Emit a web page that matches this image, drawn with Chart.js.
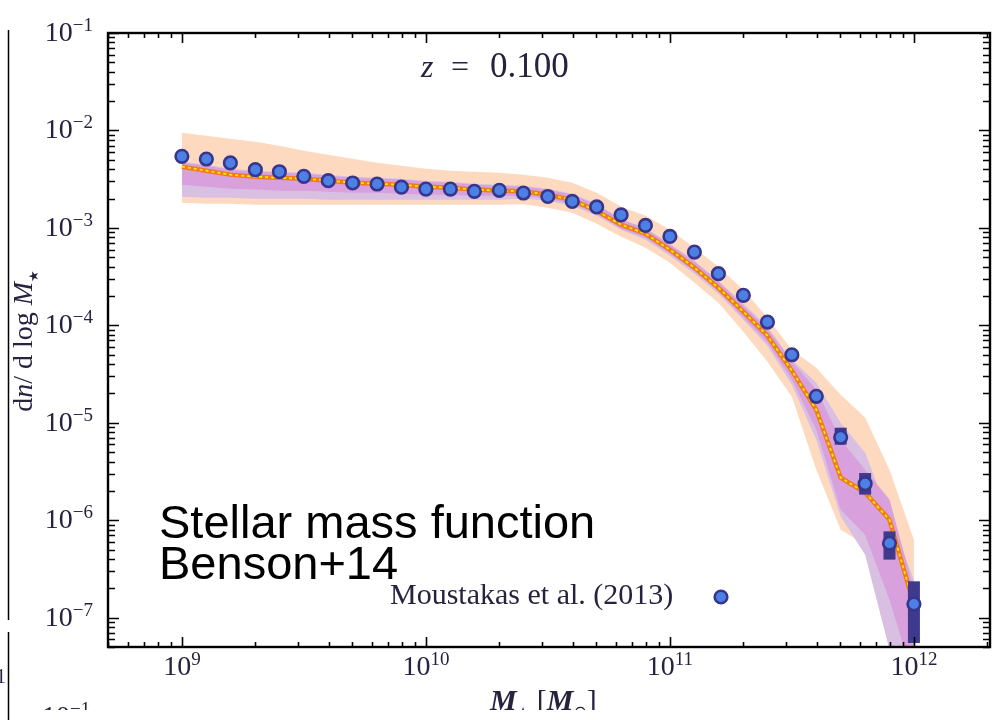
<!DOCTYPE html>
<html>
<head>
<meta charset="utf-8">
<script src="https://cdn.jsdelivr.net/npm/chart.js@4.4.1/dist/chart.umd.min.js"></script>
<style>
html,body{margin:0;padding:0;background:#fff;}
#wrap{width:994px;height:720px;position:relative;}
canvas{display:block;}
</style>
</head>
<body>
<div id="wrap"><canvas id="c" width="994" height="720"></canvas></div>
<script>
// ---------------- data ----------------
const massGrid = [1.00e9,1.26e9,1.58e9,2.00e9,2.51e9,3.16e9,3.98e9,5.01e9,6.31e9,7.94e9,
  1.00e10,1.26e10,1.58e10,2.00e10,2.51e10,3.16e10,3.98e10,5.01e10,6.31e10,7.94e10,
  1.00e11,1.26e11,1.58e11,2.00e11,2.51e11,3.16e11,3.98e11,5.01e11,6.31e11,7.94e11,1.00e12];

const moustakasVals = [5.42e-3,5.09e-3,4.64e-3,3.96e-3,3.77e-3,3.38e-3,3.05e-3,2.89e-3,2.82e-3,2.62e-3,
  2.50e-3,2.50e-3,2.37e-3,2.43e-3,2.28e-3,2.10e-3,1.87e-3,1.64e-3,1.36e-3,1.06e-3,
  8.18e-4,5.65e-4,3.39e-4,2.03e-4,1.08e-4,4.99e-5,1.87e-5,7.1e-6,2.37e-6,5.8e-7,1.38e-7];

const errMass = [5.01e11,6.31e11,7.94e11,1.00e12];
const errLo   = [5.96e-6,1.83e-6,3.94e-7,5.50e-8];
const errHi   = [8.9e-6,3.05e-6,7.69e-7,2.36e-7];

const modelVals = [4.25e-3,3.86e-3,3.52e-3,3.35e-3,3.27e-3,3.20e-3,3.05e-3,2.91e-3,2.84e-3,2.77e-3,
  2.65e-3,2.58e-3,2.47e-3,2.41e-3,2.38e-3,2.19e-3,1.94e-3,1.49e-3,1.08e-3,8.71e-4,
  5.97e-4,3.91e-4,2.43e-4,1.38e-4,7.83e-5,3.43e-5,1.36e-5,2.73e-6,1.92e-6,1.01e-6,1.36e-7];

const peachHi = [9.48e-3,8.83e-3,8.23e-3,7.67e-3,6.97e-3,6.19e-3,5.64e-3,5.13e-3,4.67e-3,4.35e-3,
  4.05e-3,3.86e-3,3.77e-3,3.68e-3,3.52e-3,3.27e-3,2.91e-3,2.30e-3,1.65e-3,1.33e-3,
  9.59e-4,6.27e-4,4.00e-4,2.32e-4,1.20e-4,5.62e-5,3.67e-5,1.94e-5,1.13e-5,3.30e-6,6.31e-7];
const peachLo = [1.81e-3,1.77e-3,1.77e-3,1.73e-3,1.73e-3,1.73e-3,1.73e-3,1.73e-3,1.73e-3,1.73e-3,
  1.73e-3,1.73e-3,1.73e-3,1.73e-3,1.75e-3,1.61e-3,1.43e-3,1.10e-3,8.13e-4,6.27e-4,
  4.40e-4,2.74e-4,1.71e-4,8.61e-5,4.24e-5,1.85e-5,3.30e-6,8.0e-7,5.61e-7,4.69e-8,1.44e-8];
const lavHi = [4.78e-3,4.45e-3,4.05e-3,3.86e-3,3.77e-3,3.68e-3,3.52e-3,3.35e-3,3.27e-3,3.20e-3,
  3.05e-3,2.98e-3,2.84e-3,2.77e-3,2.71e-3,2.52e-3,2.24e-3,1.77e-3,1.24e-3,1.00e-3,
  6.89e-4,4.61e-4,2.87e-4,1.67e-4,9.68e-5,4.44e-5,2.58e-5,1.00e-5,4.93e-6,1.09e-6,2.45e-7];
const lavLo = [2.09e-3,2.04e-3,2.04e-3,1.99e-3,1.99e-3,1.99e-3,1.94e-3,1.94e-3,1.94e-3,1.94e-3,
  1.94e-3,1.94e-3,1.94e-3,1.94e-3,2.00e-3,1.90e-3,1.69e-3,1.33e-3,9.59e-4,7.57e-4,
  5.19e-4,3.39e-4,2.11e-4,1.14e-4,6.18e-5,2.46e-5,6.71e-6,1.09e-6,4.43e-7,4.69e-8,1.44e-8];
const magHi = [4.67e-3,4.35e-3,3.96e-3,3.77e-3,3.68e-3,3.60e-3,3.43e-3,3.27e-3,3.20e-3,3.13e-3,
  2.98e-3,2.91e-3,2.77e-3,2.71e-3,2.65e-3,2.47e-3,2.19e-3,1.73e-3,1.21e-3,9.82e-4,
  6.73e-4,4.50e-4,2.81e-4,1.59e-4,9.24e-5,4.24e-5,2.19e-5,6.71e-6,3.30e-6,1.63e-6,1.94e-7];
const magLo = [2.77e-3,2.65e-3,2.52e-3,2.47e-3,2.41e-3,2.41e-3,2.35e-3,2.30e-3,2.30e-3,2.24e-3,
  2.19e-3,2.19e-3,2.14e-3,2.14e-3,2.14e-3,1.99e-3,1.77e-3,1.40e-3,9.82e-4,7.93e-4,
  5.43e-4,3.56e-4,2.21e-4,1.20e-4,6.64e-5,2.77e-5,8.49e-6,1.28e-6,7.11e-7,1.53e-7,2.31e-8];

const xTickValues = [1e9,1e10,1e11,1e12];
const xTickExps   = ['9','10','11','12'];
const yTickValues = [1e-1,1e-2,1e-3,1e-4,1e-5,1e-6,1e-7];
const yTickExps   = ['\u22121','\u22122','\u22123','\u22124','\u22125','\u22126','\u22127'];

const legendLabel = 'Moustakas et al. (2013)';
const panelLabel  = ['z', '=', '0.100'];
const noteLines   = ['Stellar mass function', 'Benson+14'];

// ---------------- build ----------------
const pts = (ys) => massGrid.map((m, i) => ({x: m, y: ys[i]}));
const band = (data, color, fillTarget, order) => ({
  data: data, showLine: true, borderWidth: 0, pointRadius: 0, backgroundColor: color,
  borderColor: 'rgba(0,0,0,0)', fill: fillTarget, order: order, tension: 0
});

const SERIF = '"Liberation Serif", "Times New Roman", serif';
const TXT = '#28223e';

function drawSup(ctx, base, exp, x, baseY, size, expSize, align) {
  ctx.font = size + 'px ' + SERIF;
  const wb = ctx.measureText(base).width;
  ctx.font = expSize + 'px ' + SERIF;
  const we = ctx.measureText(exp).width;
  let left;
  if (align === 'right') left = x - wb - we;
  else if (align === 'center') left = x - (wb + we) / 2;
  else left = x;
  ctx.textAlign = 'left';
  ctx.textBaseline = 'alphabetic';
  ctx.font = size + 'px ' + SERIF;
  ctx.fillText(base, left, baseY);
  ctx.font = expSize + 'px ' + SERIF;
  ctx.fillText(exp, left + wb, baseY - 10);
}

const decor = {
  id: 'decor',
  beforeDatasetDraw(chart, args) {
    if (args.index !== 8) return;
    const ctx = chart.ctx, xs = chart.scales.x, ys = chart.scales.y, a = chart.chartArea;
    ctx.save();
    ctx.beginPath(); ctx.rect(a.left, a.top, a.right - a.left, a.bottom - a.top); ctx.clip();
    ctx.fillStyle = '#3f3a8e';
    errMass.forEach((m, i) => {
      const px = xs.getPixelForValue(m);
      const y1 = ys.getPixelForValue(errHi[i]);
      const y2 = ys.getPixelForValue(errLo[i]);
      ctx.fillRect(px - 6, y1, 12, y2 - y1);
    });
    ctx.restore();
  },
  afterDraw(chart) {
    const ctx = chart.ctx, xs = chart.scales.x, ys = chart.scales.y, a = chart.chartArea;
    ctx.save();
    // ticks (inward, on all four sides)
    ctx.strokeStyle = '#000';
    ctx.lineWidth = 1.6;
    ctx.beginPath();
    for (let e = 8; e <= 12; e++) {
      for (let k = 1; k <= 9; k++) {
        const v = k * Math.pow(10, e);
        if (v < xs.min || v > xs.max) continue;
        const px = Math.round(xs.getPixelForValue(v)) + 0.5;
        const len = k === 1 ? 10 : 5;
        ctx.moveTo(px, a.bottom); ctx.lineTo(px, a.bottom - len);
        ctx.moveTo(px, a.top); ctx.lineTo(px, a.top + len);
      }
    }
    for (let e = -8; e <= -1; e++) {
      for (let k = 1; k <= 9; k++) {
        const v = k * Math.pow(10, e);
        if (v < ys.min || v > ys.max * 1.0001) continue;
        const py = Math.round(ys.getPixelForValue(v)) + 0.5;
        const len = k === 1 ? 11 : 7;
        ctx.moveTo(a.left, py); ctx.lineTo(a.left + len, py);
        ctx.moveTo(a.right, py); ctx.lineTo(a.right - len, py);
      }
    }
    ctx.stroke();
    // frame
    ctx.lineWidth = 2.4;
    ctx.strokeRect(a.left, a.top, a.right - a.left, a.bottom - a.top);

    // tick labels
    ctx.fillStyle = TXT;
    yTickValues.forEach((v, i) => {
      const py = ys.getPixelForValue(v);
      drawSup(ctx, '10', yTickExps[i], 93, py + 8, 28, 19, 'right');
    });
    xTickValues.forEach((v, i) => {
      const px = xs.getPixelForValue(v);
      drawSup(ctx, '10', xTickExps[i], px, 675, 28, 19, 'center');
    });

    // panel label z = 0.100
    ctx.textAlign = 'left'; ctx.textBaseline = 'alphabetic';
    ctx.font = 'italic 32px ' + SERIF;
    ctx.fillText(panelLabel[0], 421, 77);
    ctx.font = '32px ' + SERIF;
    ctx.fillText(panelLabel[1], 451, 77);
    ctx.font = '35px ' + SERIF;
    ctx.fillText(panelLabel[2], 490, 77);

    // legend
    ctx.font = '30px ' + SERIF;
    ctx.fillText(legendLabel, 390, 604);
    const ds = chart.data.datasets[8];
    ctx.beginPath();
    ctx.arc(721, 597, ds.pointRadius, 0, Math.PI * 2);
    ctx.fillStyle = ds.backgroundColor; ctx.fill();
    ctx.lineWidth = ds.borderWidth; ctx.strokeStyle = ds.borderColor; ctx.stroke();

    // overlay note
    ctx.fillStyle = '#000';
    ctx.font = '47px "Liberation Sans", Arial, sans-serif';
    ctx.fillText(noteLines[0], 159, 538);
    ctx.fillText(noteLines[1], 159, 579);

    // y axis title (rotated)
    ctx.fillStyle = TXT;
    ctx.save();
    ctx.translate(32, 341);
    ctx.rotate(-Math.PI / 2);
    const parts = [
      ['d', '28px ' + SERIF, 0], ['n', 'italic 28px ' + SERIF, 0], ['/ d log ', '28px ' + SERIF, 0],
      ['M', 'italic 28px ' + SERIF, 0], ['\u2605', '13px "DejaVu Sans", sans-serif', 6]
    ];
    let tot = 0;
    parts.forEach(p => { ctx.font = p[1]; tot += ctx.measureText(p[0]).width; });
    let cx = -tot / 2;
    parts.forEach(p => { ctx.font = p[1]; ctx.fillText(p[0], cx, p[2]); cx += ctx.measureText(p[0]).width; });
    ctx.restore();

    // clipped region near bottom (cropped figure)
    ctx.save();
    ctx.beginPath(); ctx.rect(0, 0, 994, 710); ctx.clip();
    const xparts = [
      ['M', 'italic bold 30px ' + SERIF, 0], ['\u2605', '14px "DejaVu Sans", sans-serif', 7],
      [' [', '30px ' + SERIF, 0], ['M', 'italic bold 30px ' + SERIF, 0],
      ['\u2299', '16px "DejaVu Sans", sans-serif', 7], [']', '30px ' + SERIF, 0]
    ];
    let xx = 490;
    xparts.forEach(p => { ctx.font = p[1]; ctx.fillText(p[0], xx, 710 + p[2]); xx += ctx.measureText(p[0]).width; });
    drawSup(ctx, '10', '\u22121', 42, 725, 28, 19, 'left');
    ctx.font = '20px ' + SERIF;
    ctx.fillText('1', -4, 683);
    ctx.restore();

    // cropped neighbouring frame lines
    ctx.strokeStyle = '#000'; ctx.lineWidth = 1.5;
    ctx.beginPath();
    ctx.moveTo(8.5, 30); ctx.lineTo(8.5, 620);
    ctx.moveTo(8.5, 632); ctx.lineTo(8.5, 720);
    ctx.stroke();
    ctx.restore();
  }
};

new Chart(document.getElementById('c'), {
  type: 'scatter',
  data: {
    datasets: [
      band(pts(peachHi), '#fddabf', 1, 10),
      band(pts(peachLo), '#fddabf', false, 10),
      band(pts(lavHi), '#d9bfe2', 3, 9),
      band(pts(lavLo), '#d9bfe2', false, 9),
      band(pts(magHi), '#d8a0dc', 5, 8),
      band(pts(magLo), '#d8a0dc', false, 8),
      { data: pts(modelVals), showLine: true, borderColor: '#f07a1c', borderWidth: 4.5,
        pointRadius: 0, fill: false, order: 3, tension: 0 },
      { data: pts(modelVals), showLine: true, borderColor: '#ffec00', borderWidth: 1.8,
        borderDash: [3, 3], pointRadius: 0, fill: false, order: 2, tension: 0 },
      { label: legendLabel, data: pts(moustakasVals), showLine: false, pointRadius: 6.3,
        pointStyle: 'circle', backgroundColor: '#4c80e4', borderColor: '#37358c',
        borderWidth: 2.6, order: 1 }
    ]
  },
  options: {
    responsive: false,
    animation: false,
    devicePixelRatio: 1,
    layout: { autoPadding: false, padding: { left: 108, top: 33, right: 4, bottom: 73 } },
    plugins: { legend: { display: false }, tooltip: { enabled: false }, filler: { propagate: false } },
    scales: {
      x: { type: 'logarithmic', min: 4.98e8, max: 2.05e12, display: false },
      y: { type: 'logarithmic', min: 5.0e-8, max: 1e-1, display: false }
    }
  },
  plugins: [decor]
});
</script>
</body>
</html>
